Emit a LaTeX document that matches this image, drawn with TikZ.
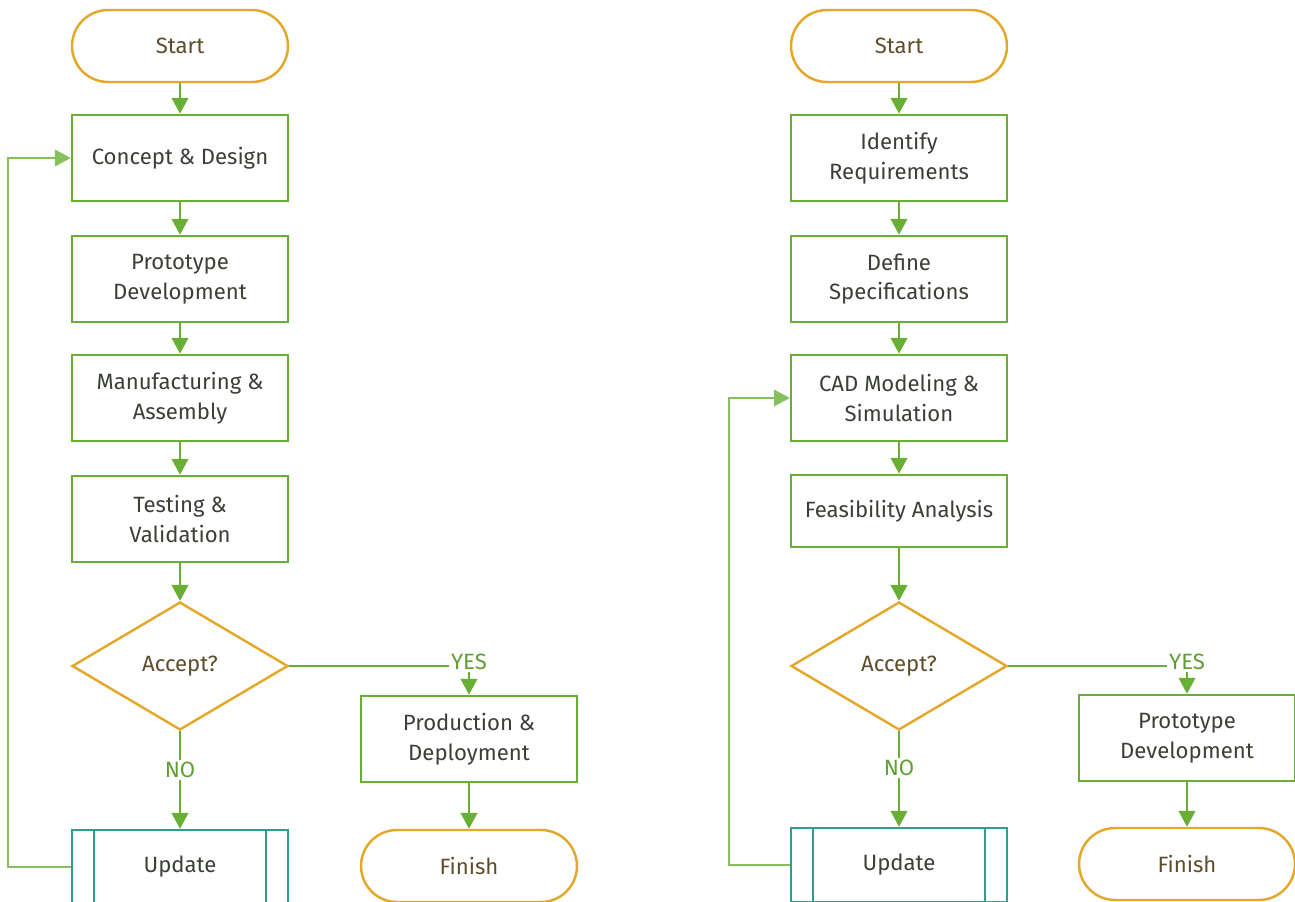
\documentclass[tikz,border=0pt]{standalone}
\usepackage{fontspec}
\setmainfont{Fira Sans}
\usetikzlibrary{shapes.geometric,shapes.multipart,arrows.meta}
\definecolor{fgreen}{HTML}{6AAF35}
\definecolor{fgold}{HTML}{E3A82A}
\definecolor{fteal}{HTML}{2E9E8F}
\definecolor{ftext}{HTML}{3A4036}
\definecolor{ftextb}{HTML}{5E4C2A}
\tikzset{
  every node/.style={font=\fontsize{12.6}{17}\selectfont, text=ftext, align=center},
  procbox/.style={draw=fgreen, line width=1.5pt, minimum width=4.32cm, minimum height=1.72cm, inner sep=0pt},
  termbox/.style={draw=fgold, line width=1.4pt, rounded corners=0.72cm, minimum width=4.32cm, minimum height=1.44cm, inner sep=0pt, text=ftextb},
  decbox/.style={draw=fgold, line width=1.4pt, diamond, aspect=1.6875, minimum width=4.32cm, minimum height=2.56cm, inner sep=0pt, text=ftextb},
  updbox/.style={draw=fteal, line width=1.4pt, minimum width=4.32cm, minimum height=1.48cm, inner sep=0pt},
  flow/.style={draw=fgreen, line width=1pt, -{Triangle[length=9pt,width=9.5pt]}},
  plain/.style={draw=fgreen, line width=1pt},
  back/.style={draw=fgreen!80, line width=0.8pt, -{Triangle[length=9pt,width=9.5pt]}},
  lbl/.style={text=fgreen!90!black, inner sep=1pt}
}
\begin{document}
\begin{tikzpicture}[x=0.02cm,y=-0.02cm]
\useasboundingbox (0,0) rectangle (1295,902);
% ---- left flow ----
\node[termbox] (ls) at (180,46) {Start};
\node[procbox] (l1) at (180,158) {Concept \& Design};
\node[procbox] (l2) at (180,279) {Prototype\\Development};
\node[procbox] (l3) at (180,398) {Manufacturing \&\\Assembly};
\node[procbox] (l4) at (180,519) {Testing \&\\Validation};
\node[decbox] (ld) at (180,666) {Accept?};
\node[updbox] (lu) at (180,867) {Update};
\draw[fteal, line width=1.4pt] ([xshift=0.46cm]lu.north west) -- ([xshift=0.46cm]lu.south west);
\draw[fteal, line width=1.4pt] ([xshift=-0.46cm]lu.north east) -- ([xshift=-0.46cm]lu.south east);
\node[procbox] (lp) at (469,739) {Production \&\\Deployment};
\node[termbox] (lf) at (469,866) {Finish};
\node[lbl] (lyes) at (469,662) {YES};
\node[lbl] (lno) at (180,770) {NO};
\coordinate (lb1) at (8,867);
\coordinate (lb2) at (8,158);
\draw[flow] (ls) -- (l1);
\draw[flow] (l1) -- (l2);
\draw[flow] (l2) -- (l3);
\draw[flow] (l3) -- (l4);
\draw[flow] (l4) -- (ld);
\draw[plain] (ld.east) -- (lyes.west |- ld.east);
\draw[flow] (lyes) -- (lp);
\draw[plain] (ld.south) -- (lno);
\draw[flow] (lno) -- (lu);
\draw[flow] (lp) -- (lf);
\draw[back] (lu.west) -- (lb1) -- (lb2) -- (l1.west);
% ---- right flow ----
\node[termbox] (rs) at (899,46) {Start};
\node[procbox] (r1) at (899,158) {Identify\\Requirements};
\node[procbox] (r2) at (899,279) {Define\\Specifications};
\node[procbox] (r3) at (899,398) {CAD Modeling \&\\Simulation};
\node[procbox, minimum height=1.44cm] (r4) at (899,511) {Feasibility Analysis};
\node[decbox] (rd) at (899,666) {Accept?};
\node[updbox] (ru) at (899,865) {Update};
\draw[fteal, line width=1.4pt] ([xshift=0.46cm]ru.north west) -- ([xshift=0.46cm]ru.south west);
\draw[fteal, line width=1.4pt] ([xshift=-0.46cm]ru.north east) -- ([xshift=-0.46cm]ru.south east);
\node[procbox] (rp) at (1187,738) {Prototype\\Development};
\node[termbox] (rf) at (1187,864) {Finish};
\node[lbl] (ryes) at (1187,662) {YES};
\node[lbl] (rno) at (899,768) {NO};
\coordinate (rb1) at (729,865);
\coordinate (rb2) at (729,398);
\draw[flow] (rs) -- (r1);
\draw[flow] (r1) -- (r2);
\draw[flow] (r2) -- (r3);
\draw[flow] (r3) -- (r4);
\draw[flow] (r4) -- (rd);
\draw[plain] (rd.east) -- (ryes.west |- rd.east);
\draw[flow] (ryes) -- (rp);
\draw[plain] (rd.south) -- (rno);
\draw[flow] (rno) -- (ru);
\draw[flow] (rp) -- (rf);
\draw[back] (ru.west) -- (rb1) -- (rb2) -- (r3.west);
\end{tikzpicture}
\end{document}
